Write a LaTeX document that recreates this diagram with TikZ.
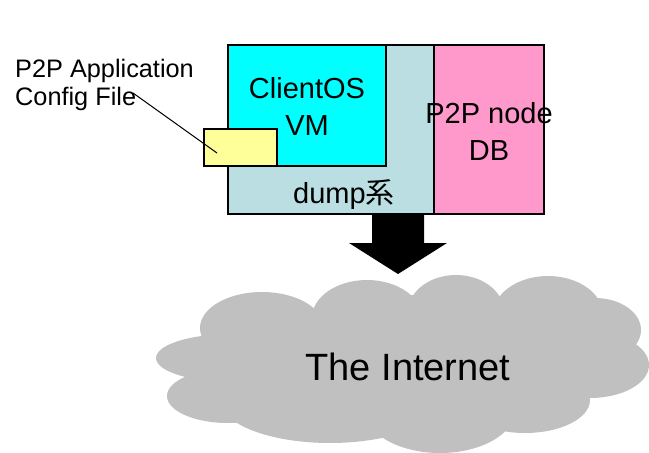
\documentclass[tikz,border=0pt]{standalone}
\usepackage{fontspec}
\setmainfont{Liberation Sans}
\newfontfamily\cjk{Noto Sans CJK JP}
\definecolor{dumpblue}{HTML}{BADEE1}
\definecolor{vmcyan}{HTML}{00FFFF}
\definecolor{dbpink}{HTML}{FF99CC}
\definecolor{cfgyellow}{HTML}{FFFF99}
\definecolor{netgray}{HTML}{C0C0C0}
\tikzset{
	part/.style={draw=black, line width=1.2pt, inner sep=0pt, outer sep=0pt, anchor=north west},
	lbl/.style={inner sep=0pt, align=center, font=\fontsize{29}{37}\selectfont},
}

\begin{document}
\begin{tikzpicture}[x=1pt, y=-1pt]
				\useasboundingbox (0, 0) rectangle (649, 453);
				
				% the cloud
				\fill[netgray] (262, 328) ellipse (62 and 36);
				\fill[netgray] (367, 318) ellipse (55 and 38);
				\fill[netgray] (456, 312) ellipse (48 and 37);
				\fill[netgray] (548, 315) ellipse (55 and 39);
				\fill[netgray] (595, 330) ellipse (46 and 32);
				\fill[netgray] (590, 365) ellipse (59 and 33);
				\fill[netgray] (232, 358) ellipse (76 and 24);
				\fill[netgray] (228, 396) ellipse (61 and 27);
				\fill[netgray] (330, 400) ellipse (110 and 43);
				\fill[netgray] (440, 410) ellipse (75 and 43);
				\fill[netgray] (525, 400) ellipse (65 and 33);
				\fill[netgray] (420, 355) ellipse (170 and 60);
				\node[inner sep=0pt, anchor=base, font=\fontsize{38}{44}\selectfont] (net) at (408, 380) {The Internet};
				
				\node[part, fill=dumpblue, minimum width=206, minimum height=169] (dump) at (228, 45) {};
				\node[part, fill=vmcyan, minimum width=158, minimum height=121] (vm) at (228, 45) {};
				\node[part, fill=dbpink, minimum width=110, minimum height=169] (db) at (434, 45) {};
				\node[part, fill=cfgyellow, minimum width=73, minimum height=37] (cfg) at (204, 129) {};
				
				\node[lbl] (vmtext) at (307, 106.5) {ClientOS\\VM};
				\node[lbl] (dbtext) at (489, 131.5) {P2P node\\DB};
				\node[lbl, anchor=base] (dumptext) at (344, 203) {dump{\cjk 系}};
				\node[inner sep=0pt, anchor=west, align=left, font=\fontsize{25.3}{28.5}\selectfont] (cfgtext) at (15, 85) {P2P Application\\Config File};
				
				\coordinate (leadstart) at (133, 93);
				\coordinate (leadend) at (217, 153);
				\draw[line width=1pt] (leadstart) -- (leadend);
				
				\fill[black] (372, 214) -- (424, 214) -- (424, 243) -- (447, 243) -- (398, 274) -- (349, 243) -- (372, 243) -- cycle;
\end{tikzpicture}
\end{document}
